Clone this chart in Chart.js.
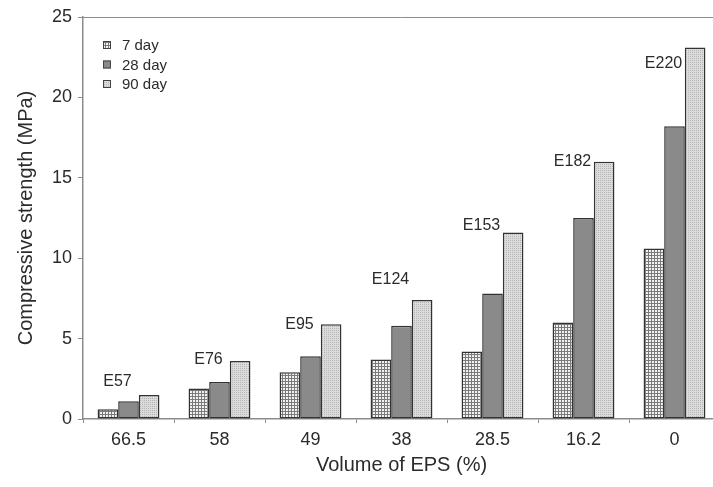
<!DOCTYPE html>
<html lang="en">
<head>
  <meta charset="UTF-8">
  <title>Compressive strength vs EPS volume</title>
  <style>
    html, body {
      margin: 0;
      padding: 0;
      background: #fff;
      overflow: hidden;
    }
    .wrap {
      width: 730px;
      height: 487px;
    }
  </style>
</head>
<body>
  <div class="wrap">
    <canvas id="strengthChart" width="730" height="487"></canvas>
  </div>

  <script src="https://cdn.jsdelivr.net/npm/chart.js"></script>
  <script>
    // Data
    const eps = ['66.5', '58', '49', '38', '28.5', '16.2', '0'];
    const day7 = [0.6, 1.9, 2.9, 3.7, 4.2, 6.0, 10.6];
    const day28 = [1.1, 2.3, 3.9, 5.8, 7.8, 12.5, 18.2];
    const day90 = [1.5, 3.6, 5.9, 7.4, 11.6, 16.0, 23.1];
    const mixNames = ['E57', 'E76', 'E95', 'E124', 'E153', 'E182', 'E220'];
    const mixLabelLevel = [2.3, 3.7, 5.9, 8.7, 12.0, 16.0, 22.1];
    const yTicks = [0, 5, 10, 15, 20, 25];

    const FONT = 'Arial, "Liberation Sans", sans-serif';
    const TEXT = '#2b2b2b';
    const AXIS = '#8c8c8c';

    // Hatch-like fills made from small tiles
    function makePattern(size, draw) {
      const c = document.createElement('canvas');
      c.width = size;
      c.height = size;
      draw(c.getContext('2d'));
      return c.getContext('2d').createPattern(c, 'repeat');
    }

    const gridFill = makePattern(3, (g) => {
      g.fillStyle = '#f2f2f2';
      g.fillRect(0, 0, 3, 3);
      g.fillStyle = '#7a7a7a';
      g.fillRect(0, 0, 3, 1);
      g.fillRect(0, 0, 1, 3);
    });
    const solidFill = '#8a8a8a';
    const dotFill = makePattern(2, (g) => {
      g.fillStyle = '#dcdcdc';
      g.fillRect(0, 0, 2, 2);
      g.fillStyle = '#b4b4b4';
      g.fillRect(0, 0, 1, 1);
    });

    const ctx = document.getElementById('strengthChart').getContext('2d');

    // Draws top frame line, legend and mix labels
    const extras = {
      id: 'extras',
      afterDatasetsDraw(chart) {
        const c = chart.ctx;
        const area = chart.chartArea;
        const x = chart.scales.x;
        const y = chart.scales.y;

        c.save();
        c.strokeStyle = AXIS;
        c.lineWidth = 1;
        c.beginPath();
        c.moveTo(area.left, area.top + 0.5);
        c.lineTo(area.right, area.top + 0.5);
        c.stroke();

        // mix labels
        c.fillStyle = TEXT;
        c.font = '16px ' + FONT;
        c.textAlign = 'center';
        c.textBaseline = 'middle';
        mixNames.forEach((name, i) => {
          c.fillText(name, x.getPixelForValue(i) - 11, y.getPixelForValue(mixLabelLevel[i]));
        });

        // legend
        const fills = chart.data.datasets.map(d => d.backgroundColor);
        chart.data.datasets.forEach((d, i) => {
          const ly = area.top + 28 + i * 19.5;
          const lx = area.left + 20;
          c.fillStyle = fills[i];
          c.fillRect(lx, ly - 4, 8, 8);
          c.strokeStyle = '#444';
          c.lineWidth = 1;
          c.strokeRect(lx + 0.5, ly - 3.5, 7, 7);
          c.fillStyle = TEXT;
          c.font = '15px ' + FONT;
          c.textAlign = 'left';
          c.fillText(d.label, lx + 19, ly + 1);
        });
        c.restore();
      }
    };

    const barStyle = {
      borderColor: '#333',
      borderWidth: 1.5,
      borderSkipped: false,
      categoryPercentage: 0.68,
      barPercentage: 1.0
    };

    new Chart(ctx, {
      type: 'bar',
      data: {
        labels: eps,
        datasets: [
          { label: '7 day', data: day7, backgroundColor: gridFill, ...barStyle },
          { label: '28 day', data: day28, backgroundColor: solidFill, ...barStyle },
          { label: '90 day', data: day90, backgroundColor: dotFill, ...barStyle }
        ]
      },
      options: {
        responsive: false,
        animation: false,
        layout: { padding: { top: 17, right: 10, left: 0, bottom: 0 } },
        plugins: {
          legend: { display: false },
          tooltip: { enabled: false }
        },
        scales: {
          x: {
            grid: { display: true, drawOnChartArea: false, offset: true, tickLength: 4, color: AXIS },
            border: { color: AXIS, width: 1.5 },
            ticks: { color: TEXT, font: { family: FONT, size: 18 }, padding: 6 },
            title: {
              display: true,
              text: 'Volume of EPS (%)',
              color: TEXT,
              font: { family: FONT, size: 20 },
              padding: { top: 0, bottom: 10 }
            },
            afterFit(scale) { scale.height = 68; }
          },
          y: {
            min: 0,
            max: 25,
            afterBuildTicks(scale) { scale.ticks = yTicks.map(v => ({ value: v })); },
            grid: { display: true, drawOnChartArea: false, tickLength: 5, color: AXIS },
            border: { color: AXIS, width: 1.5 },
            ticks: { color: TEXT, font: { family: FONT, size: 18 }, padding: 6 },
            title: {
              display: true,
              text: 'Compressive strength (MPa)',
              color: TEXT,
              font: { family: FONT, size: 20 },
              padding: { top: 14, bottom: 0 }
            },
            afterFit(scale) { scale.width = 83; }
          }
        }
      },
      plugins: [extras]
    });
  </script>
</body>
</html>
